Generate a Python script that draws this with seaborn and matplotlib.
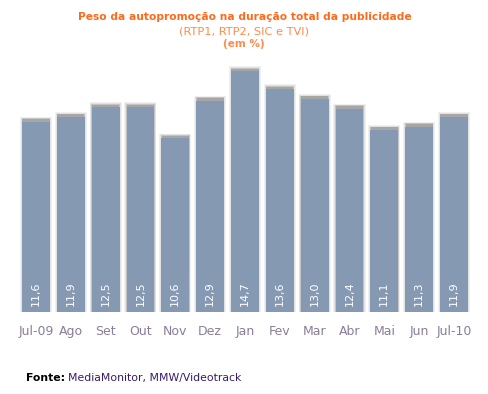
import matplotlib
matplotlib.use("Agg")
import matplotlib.pyplot as plt
import seaborn as sns
import pandas as pd

# data
months = ["Jul-09", "Ago", "Set", "Out", "Nov", "Dez", "Jan", "Fev", "Mar", "Abr", "Mai", "Jun", "Jul-10"]
values = [11.6, 11.9, 12.5, 12.5, 10.6, 12.9, 14.7, 13.6, 13.0, 12.4, 11.1, 11.3, 11.9]

bar_color = "#8599b3"
tick_color = "#8a7d99"
title_color = "#ff6a1a"

df = pd.DataFrame({"mes": months, "valor": values})

sns.set_theme(style="white")
plt.rcParams["font.family"] = ["DejaVu Sans"]

fig = plt.figure(figsize=(4.88, 3.94), dpi=100)
ax = fig.add_axes([0.038, 0.208, 0.928, 0.665])

# soft shadow behind each bar
xs = list(range(len(values)))
ax.bar(xs, [v + 0.3 for v in values], width=0.92, color="#f0f0f0", linewidth=0, zorder=1)
ax.bar(xs, [v + 0.26 for v in values], width=0.87, color="#e2e2e2", linewidth=0, zorder=1)
ax.bar(xs, [v + 0.22 for v in values], width=0.82, color="#c4c4c4", linewidth=0, zorder=1)
ax.bar(xs, [v + 0.17 for v in values], width=0.78, color="#a6a6a6", linewidth=0, zorder=1)

sns.barplot(x="mes", y="valor", data=df, color=bar_color, saturation=1,
            width=0.8, linewidth=0, edgecolor="none", ax=ax, zorder=2)

for i, v in enumerate(values):
    ax.text(i, 1.12, f"{v:.1f}".replace(".", ","), rotation=90, color="white",
            ha="center", va="center", fontsize=8, zorder=3)

ax.set_xlim(-0.5, len(values) - 0.5)
ax.set_ylim(0, 16)
ax.set_yticks([])
ax.set_xlabel("")
ax.set_ylabel("")
for s in ax.spines.values():
    s.set_visible(False)
ax.tick_params(axis="x", length=0, pad=9, labelsize=9, labelcolor=tick_color)

fig.text(0.502, 0.957, "Peso da autopromoção na duração total da publicidade",
         ha="center", va="center", fontsize=7.7, fontweight="bold", color=title_color)
fig.text(0.5, 0.921, "(RTP1, RTP2, SIC e TVI)",
         ha="center", va="center", fontsize=8.2, color="#ff8a4a")
fig.text(0.5, 0.889, "(em %)",
         ha="center", va="center", fontsize=7.5, fontweight="bold", color="#ff8a4a")

fig.text(0.054, 0.041, "Fonte:", ha="left", va="center", fontsize=7.8,
         fontweight="bold", color="black")
fig.text(0.139, 0.041, "MediaMonitor, MMW/Videotrack", ha="left", va="center",
         fontsize=7.8, color="#3a1a6a")

fig.savefig("out.png", dpi=100, facecolor="white")
